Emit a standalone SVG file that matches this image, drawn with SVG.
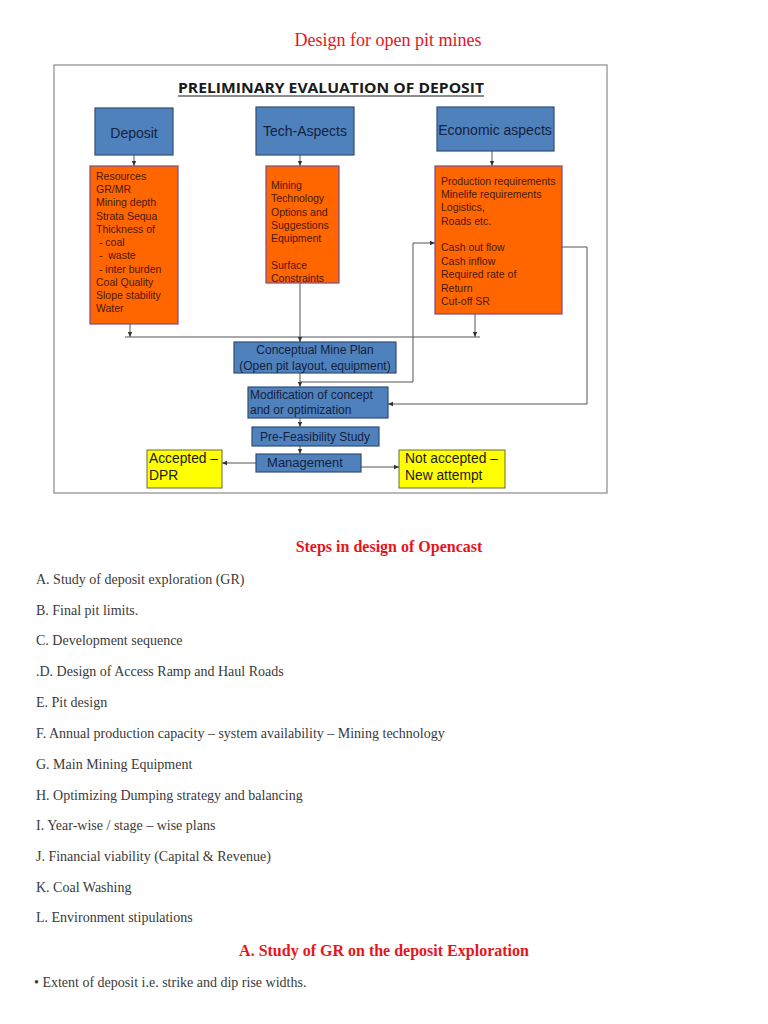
<svg xmlns="http://www.w3.org/2000/svg" width="768" height="1024" viewBox="0 0 768 1024">
<defs>
<marker id="ah" markerWidth="6" markerHeight="6" refX="5" refY="3" orient="auto" markerUnits="userSpaceOnUse">
<path d="M0,0.8 L5,3 L0,5.2 Z" fill="#333"/>
</marker>
<style>
.blue{fill:#4F81BD;stroke:#2F4F75;stroke-width:1.2}
.orange{fill:#FF6600;stroke:#7A4A8A;stroke-width:1.2}
.yellow{fill:#FFFF00;stroke:#6a6a3a;stroke-width:1}
.bt{font-family:"Liberation Sans",Arial,sans-serif;fill:#14213d}
.ot{font-family:"Liberation Sans",Arial,sans-serif;font-size:10.5px;fill:#4a1a10}
.yt{font-family:"Liberation Sans",Arial,sans-serif;font-size:13.8px;fill:#1a1a1a}
.con{fill:none;stroke:#555;stroke-width:1}
.red{font-family:"Liberation Serif","Times New Roman",serif;fill:#e8141c}
.li{font-family:"Liberation Serif","Times New Roman",serif;font-size:14px;fill:#3a3a3a}
</style>
</defs>
<rect width="768" height="1024" fill="#fff"/>
<text class="red" x="388" y="46" font-size="18" text-anchor="middle">Design for open pit mines</text>

<rect x="54" y="65" width="553" height="428" fill="#fff" stroke="#8a8a8a" stroke-width="1.2"/>
<text x="331" y="93" font-family="'Open Sans','Liberation Sans',sans-serif" font-weight="bold" font-size="15" text-anchor="middle" fill="#1a1a1a" textLength="306" lengthAdjust="spacingAndGlyphs">PRELIMINARY EVALUATION OF DEPOSIT</text>
<line x1="178" y1="96" x2="484" y2="96" stroke="#1a1a1a" stroke-width="1.2"/>

<g id="connectors">
<line class="con" x1="134" y1="155" x2="134" y2="166" marker-end="url(#ah)"/>
<line class="con" x1="300" y1="155" x2="300" y2="166" marker-end="url(#ah)"/>
<line class="con" x1="492" y1="151" x2="492" y2="166" marker-end="url(#ah)"/>
<line class="con" x1="130" y1="324" x2="130" y2="337" marker-end="url(#ah)"/>
<line class="con" x1="475" y1="314" x2="475" y2="337" marker-end="url(#ah)"/>
<line class="con" x1="125" y1="337" x2="480" y2="337"/>
<line class="con" x1="300" y1="283" x2="300" y2="342" marker-end="url(#ah)"/>
<line class="con" x1="300" y1="373" x2="300" y2="387" marker-end="url(#ah)"/>
<polyline class="con" points="300,382 413,382 413,243 435,243" marker-end="url(#ah)"/>
<polyline class="con" points="562,247 587,247 587,404 388,404" marker-end="url(#ah)"/>
<line class="con" x1="300" y1="418" x2="300" y2="427" marker-end="url(#ah)"/>
<line class="con" x1="300" y1="446" x2="300" y2="454" marker-end="url(#ah)"/>
<line class="con" x1="256" y1="463" x2="222" y2="463" marker-end="url(#ah)"/>
<line class="con" x1="361" y1="467" x2="399" y2="467" marker-end="url(#ah)"/>
</g>

<g id="deposit">
<rect class="blue" x="95" y="108" width="78" height="47"/>
<text class="bt" x="134" y="138" font-size="14" text-anchor="middle">Deposit</text>
</g>
<g id="tech-aspects">
<rect class="blue" x="256" y="107" width="98" height="48"/>
<text class="bt" x="305" y="136" font-size="14" text-anchor="middle">Tech-Aspects</text>
</g>
<g id="economic-aspects">
<rect class="blue" x="437" y="107" width="117" height="44"/>
<text class="bt" x="495" y="135" font-size="14" text-anchor="middle">Economic aspects</text>
</g>

<g id="deposit-details">
<rect class="orange" x="90" y="166" width="88" height="158"/>
<text class="ot" xml:space="preserve"><tspan x="96" y="180">Resources</tspan><tspan x="96" y="193">GR/MR</tspan><tspan x="96" y="206">Mining depth</tspan><tspan x="96" y="220">Strata Sequa</tspan><tspan x="96" y="233">Thickness of</tspan><tspan x="96" y="246"> - coal</tspan><tspan x="96" y="259"> -  waste</tspan><tspan x="96" y="273"> - inter burden</tspan><tspan x="96" y="286">Coal Quality</tspan><tspan x="96" y="299">Slope stability</tspan><tspan x="96" y="312">Water</tspan></text>
</g>
<g id="tech-details">
<rect class="orange" x="266" y="166" width="73" height="117"/>
<text class="ot"><tspan x="271" y="189">Mining</tspan><tspan x="271" y="202">Technology</tspan><tspan x="271" y="216">Options and</tspan><tspan x="271" y="229">Suggestions</tspan><tspan x="271" y="242">Equipment</tspan><tspan x="271" y="269">Surface</tspan><tspan x="271" y="282">Constraints</tspan></text>
</g>
<g id="economic-details">
<rect class="orange" x="435" y="166" width="127" height="148"/>
<text class="ot"><tspan x="441" y="185">Production requirements</tspan><tspan x="441" y="198">Minelife requirements</tspan><tspan x="441" y="211">Logistics,</tspan><tspan x="441" y="225">Roads etc.</tspan><tspan x="441" y="251">Cash out flow</tspan><tspan x="441" y="265">Cash inflow</tspan><tspan x="441" y="278">Required rate of</tspan><tspan x="441" y="292">Return</tspan><tspan x="441" y="305">Cut-off SR</tspan></text>
</g>

<g id="conceptual-mine-plan">
<rect class="blue" x="234" y="342" width="162" height="31"/>
<text class="bt" font-size="12" text-anchor="middle"><tspan x="315" y="354">Conceptual Mine Plan</tspan><tspan x="315" y="370">(Open pit layout, equipment)</tspan></text>
</g>
<g id="modification">
<rect class="blue" x="248" y="387" width="140" height="31"/>
<text class="bt" font-size="12"><tspan x="250" y="399">Modification of concept</tspan><tspan x="250" y="414">and or optimization</tspan></text>
</g>
<g id="pre-feasibility">
<rect class="blue" x="252" y="427" width="127" height="19"/>
<text class="bt" font-size="12" x="315" y="441" text-anchor="middle">Pre-Feasibility Study</text>
</g>
<g id="management">
<rect class="blue" x="256" y="454" width="105" height="18"/>
<text class="bt" font-size="13" x="305" y="467" text-anchor="middle">Management</text>
</g>
<g id="accepted">
<rect class="yellow" x="147" y="450" width="75" height="38"/>
<text class="yt"><tspan x="149" y="463">Accepted –</tspan><tspan x="149" y="480">DPR</tspan></text>
</g>
<g id="not-accepted">
<rect class="yellow" x="399" y="450" width="106" height="38"/>
<text class="yt"><tspan x="405" y="463">Not accepted –</tspan><tspan x="405" y="480">New attempt</tspan></text>
</g>

<text class="red" x="389" y="552" font-size="16" font-weight="bold" text-anchor="middle">Steps in design of Opencast</text>
<text class="li" x="36" y="584">A. Study of deposit exploration (GR)</text>
<text class="li" x="36" y="615">B. Final pit limits.</text>
<text class="li" x="36" y="645">C. Development sequence</text>
<text class="li" x="36" y="676">.D. Design of Access Ramp and Haul Roads</text>
<text class="li" x="36" y="707">E. Pit design</text>
<text class="li" x="36" y="738">F. Annual production capacity – system availability – Mining technology</text>
<text class="li" x="36" y="769">G. Main Mining Equipment</text>
<text class="li" x="36" y="800">H. Optimizing Dumping strategy and balancing</text>
<text class="li" x="36" y="830">I. Year-wise / stage – wise plans</text>
<text class="li" x="36" y="861">J. Financial viability (Capital &amp; Revenue)</text>
<text class="li" x="36" y="892">K. Coal Washing</text>
<text class="li" x="36" y="922">L. Environment stipulations</text>
<text class="red" x="384" y="956" font-size="16" font-weight="bold" text-anchor="middle">A. Study of GR on the deposit Exploration</text>
<text class="li" x="34" y="987">• Extent of deposit i.e. strike and dip rise widths.</text>
</svg>
